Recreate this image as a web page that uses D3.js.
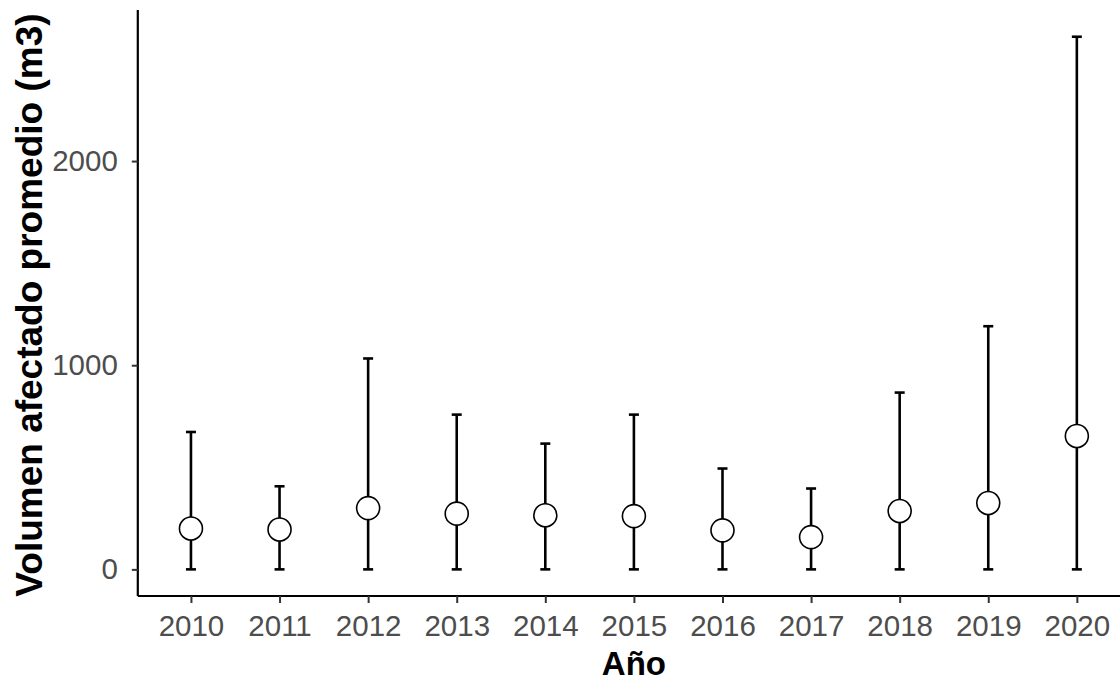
<!DOCTYPE html>
<html>
<head>
<meta charset="utf-8">
<script src="https://cdn.jsdelivr.net/npm/d3@7"></script>
<style>
  html, body { margin: 0; padding: 0; background: #fff; }
  svg { display: block; font-family: "Liberation Sans", Arial, sans-serif; }
</style>
</head>
<body>
<svg id="chart" width="1120" height="683"></svg>
<script>
// Mean affected volume per year with its interval bounds
const years = ["2010", "2011", "2012", "2013", "2014", "2015", "2016", "2017", "2018", "2019", "2020"];
const meanVol = [200, 195, 300, 273, 265, 261, 191, 158, 286, 325, 653];
const upperVol = [673, 407, 1033, 758, 616, 758, 494, 396, 866, 1191, 2609];
const lowerVol = [0, 0, 0, 0, 0, 0, 0, 0, 0, 0, 0];
const yTicks = [0, 1000, 2000];

const rows = years.map((y, i) => ({ year: y, mean: meanVol[i], lo: lowerVol[i], hi: upperVol[i] }));

const svg = d3.select("#chart");
const panelLeft = 137.8, panelRight = 1130, panelTop = 10.1, panelBottom = 596;

// Continuous y with a 5% expansion on each side
const yMin = d3.min(lowerVol), yMax = d3.max(upperVol);
const pad = (yMax - yMin) * 0.05;
const y = d3.scaleLinear().domain([yMin - pad, yMax + pad]).range([panelBottom, panelTop]);

// Discrete x with 0.6 step padding at each end
const x = d3.scalePoint().domain(years).range([panelLeft, panelRight]).padding(0.6);

// Error bars
const bars = svg.append("g").attr("stroke", "#000").attr("stroke-width", 2.6).attr("fill", "none");
bars.selectAll("line.stem").data(rows).join("line")
  .attr("class", "stem")
  .attr("x1", d => x(d.year)).attr("x2", d => x(d.year))
  .attr("y1", d => y(d.lo)).attr("y2", d => y(d.hi));
const capW = 5;
bars.selectAll("line.capHi").data(rows).join("line")
  .attr("class", "capHi")
  .attr("x1", d => x(d.year) - capW).attr("x2", d => x(d.year) + capW)
  .attr("y1", d => y(d.hi)).attr("y2", d => y(d.hi));
bars.selectAll("line.capLo").data(rows).join("line")
  .attr("class", "capLo")
  .attr("x1", d => x(d.year) - capW).attr("x2", d => x(d.year) + capW)
  .attr("y1", d => y(d.lo)).attr("y2", d => y(d.lo));

// Mean points
svg.append("g").selectAll("circle").data(rows).join("circle")
  .attr("cx", d => x(d.year)).attr("cy", d => y(d.mean))
  .attr("r", 11.5).attr("fill", "#fff").attr("stroke", "#000").attr("stroke-width", 1.6);

// Axes
const yAxis = svg.append("g").attr("transform", `translate(${panelLeft},0)`)
  .call(d3.axisLeft(y).tickValues(yTicks).tickSize(6).tickPadding(14).tickFormat(d3.format("d")));
const xAxis = svg.append("g").attr("transform", `translate(0,${panelBottom})`)
  .call(d3.axisBottom(x).tickSize(7).tickPadding(12));

[yAxis, xAxis].forEach(g => {
  g.select(".domain").attr("stroke", "#000").attr("stroke-width", 2.2);
  g.selectAll(".tick line").attr("stroke", "#333").attr("stroke-width", 2);
  g.selectAll(".tick text").attr("fill", "#4d4d4d").style("font-size", "29.5px")
    .style("font-family", "'Liberation Sans', Arial, sans-serif");
});
// Axis lines span the full panel
yAxis.select(".domain").attr("d", `M0,${panelBottom}V${panelTop}`);
xAxis.select(".domain").attr("d", `M${panelLeft},0H${panelRight}`);

// Axis titles
svg.append("text")
  .attr("x", (panelLeft + panelRight) / 2).attr("y", 675)
  .attr("text-anchor", "middle")
  .style("font-size", "33px").style("font-weight", "bold").attr("fill", "#000")
  .text("Año");

svg.append("text")
  .attr("transform", `translate(42,${(panelTop + panelBottom) / 2 + 2}) rotate(-90)`)
  .attr("text-anchor", "middle")
  .style("font-size", "37px").style("font-weight", "bold").attr("fill", "#000")
  .text("Volumen afectado promedio (m3)");
</script>
</body>
</html>
